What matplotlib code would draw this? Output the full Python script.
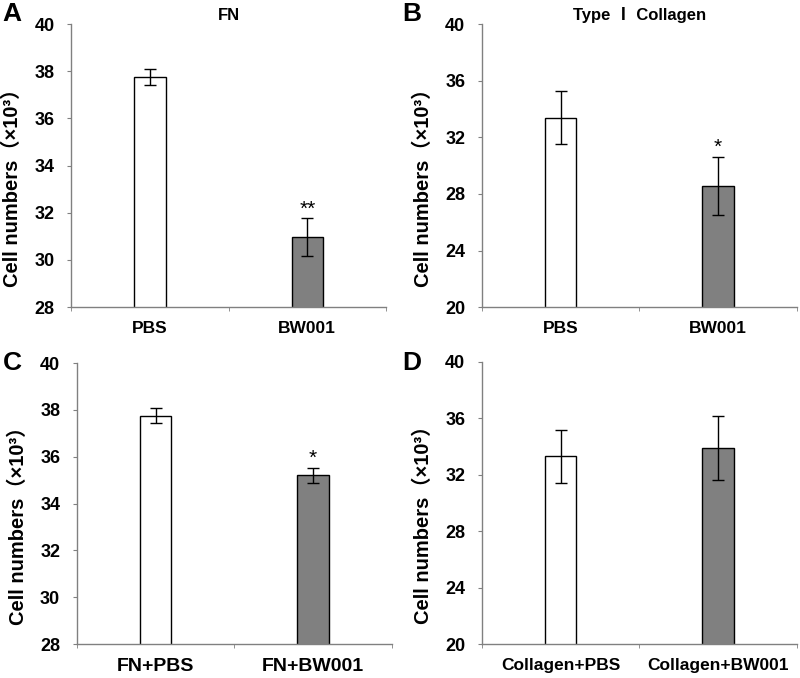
import numpy as np
import matplotlib
matplotlib.use('Agg')
from matplotlib import pyplot as plt

plt.rcParams['font.family'] = ['Liberation Sans', 'Noto Sans CJK SC', 'DejaVu Sans']

# panel data: categories, means, errors (x10^3 cells)
cats_a = ['PBS', 'BW001']
mean_a = [37.75, 30.96]
err_a = [0.34, 0.80]
star_a = ['', '**']

cats_b = ['PBS', 'BW001']
mean_b = [33.37, 28.56]
err_b = [1.88, 2.06]
star_b = ['', '*']

cats_c = ['FN+PBS', 'FN+BW001']
mean_c = [37.75, 35.20]
err_c = [0.33, 0.32]
star_c = ['', '*']

cats_d = ['Collagen+PBS', 'Collagen+BW001']
mean_d = [33.31, 33.92]
err_d = [1.89, 2.27]
star_d = ['', '']

titles = ['FN', 'Type Ⅰ Collagen', '', '']
letters = ['A', 'B', 'C', 'D']
ylims = [(28, 40, 2), (20, 40, 4), (28, 40, 2), (20, 40, 4)]
xlabel_sizes = [12.5, 12.5, 14, 12.5]

boxes = [[0.089, 0.547, 0.3935, 0.4176],
         [0.6025, 0.547, 0.3935, 0.4176],
         [0.096, 0.0501, 0.3935, 0.4145],
         [0.6025, 0.0501, 0.3935, 0.4160]]
letter_pos = [(0.003, 0.997), (0.503, 0.997), (0.003, 0.482), (0.503, 0.482)]

fig = plt.figure(figsize=(8, 6.78), dpi=100)
panels = [(cats_a, mean_a, err_a, star_a), (cats_b, mean_b, err_b, star_b),
          (cats_c, mean_c, err_c, star_c), (cats_d, mean_d, err_d, star_d)]

for i, (cats, means, errs, stars) in enumerate(panels):
    ax = fig.add_axes(boxes[i])
    x = np.arange(len(cats))
    ax.bar(x, means, width=0.2, color=['white', '#808080'],
           edgecolor='black', linewidth=1.0, zorder=2)
    ax.errorbar(x, means, yerr=errs, fmt='none', ecolor='black',
                elinewidth=1.0, capsize=4, capthick=1.0, zorder=3)
    lo, hi, step = ylims[i]
    ax.set_ylim(lo, hi)
    ax.set_xlim(-0.5, len(cats) - 0.5)
    ax.set_yticks(np.arange(lo, hi + 0.1, step))
    ax.set_xticks(x)
    ax.set_xticklabels(cats, fontsize=xlabel_sizes[i], fontweight='bold')
    ax.set_xticks(np.arange(-0.5, len(cats)), minor=True)
    ax.tick_params(axis='x', which='major', length=0, pad=10)
    ax.tick_params(axis='x', which='minor', length=3, direction='out',
                   color='#808080')
    ax.tick_params(axis='y', length=3, direction='out', color='#808080',
                   labelsize=13, pad=9)
    for lab in ax.get_yticklabels():
        lab.set_fontweight('bold')
    for side in ['top', 'right']:
        ax.spines[side].set_visible(False)
    for side in ['left', 'bottom']:
        ax.spines[side].set_color('#808080')
        ax.spines[side].set_linewidth(1.0)
    ax.set_ylabel('Cell numbers（×10³）', fontsize=14.5, fontweight='bold')
    ax.yaxis.set_label_coords(-0.155, 0.44)
    if titles[i]:
        ax.set_title(titles[i], fontsize=12, fontweight='bold', pad=3)
    for xi, m, e, s in zip(x, means, errs, stars):
        if s:
            ax.text(xi, m + e, s, ha='center', va='bottom', fontsize=15)
    fig.text(letter_pos[i][0], letter_pos[i][1], letters[i], fontsize=19,
             fontweight='bold', ha='left', va='top')

fig.savefig('out.png', dpi=100)
